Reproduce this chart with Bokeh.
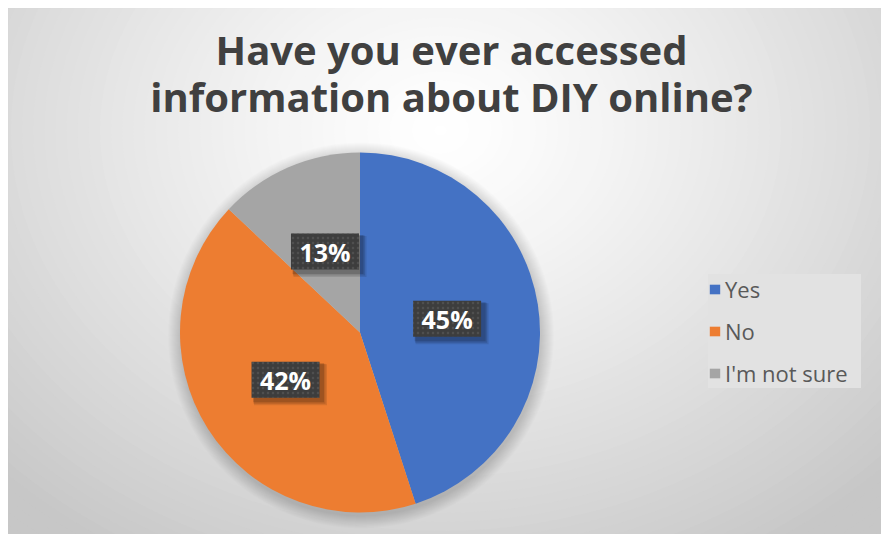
import numpy as np
from bokeh.plotting import figure
from bokeh.models import Range1d, Legend, LegendItem, ColumnDataSource, Label
from bokeh.core.properties import value
from bokeh.embed import file_html
from bokeh.resources import INLINE

# ---- data ----
categories = ["Yes", "No", "I'm not sure"]
shares = [45, 42, 13]
colors = ["#4472C4", "#ED7D31", "#A5A5A5"]
title_lines = ["Have you ever accessed", "information about DIY online?"]

OX, OY = 8, 8            # white strip at left / top, as in the reference
FW, FH = 873, 526        # chart area size
FONT = "Open Sans"


def px(X):               # page x -> data x
    return X - OX


def py(Y):               # page y -> data y
    return FH + OY - Y


p = figure(width=FW + OX, height=FH + OY, x_range=Range1d(0, FW), y_range=Range1d(0, FH),
           x_axis_type=None, y_axis_type=None, output_backend="svg",
           toolbar_location=None, min_border=0, min_border_left=OX, min_border_top=OY)
p.grid.visible = False
p.outline_line_color = "#c4c4c4"
p.background_fill_color = "#cbcbcb"
p.border_fill_color = "white"

# ---- radial gradient background (decoration) ----
gcx, gcy = px(440), py(130)
rx, ry = 620, 500
n = 70
ds = np.linspace(1.25, 0.01, n)
gcols = []
for d in ds:
    t = min(d, 1.0)
    v = int(round(255 - 56 * t ** 1.25))
    gcols.append("#%02x%02x%02x" % (v, v, v))
p.ellipse(x=[gcx] * n, y=[gcy] * n, width=list(2 * rx * ds), height=list(2 * ry * ds),
          fill_color=gcols, line_color=None)

# ---- pie ----
cx, cy, R = px(359.5), py(332), 180
frac = np.array(shares, dtype=float) / sum(shares)
ends = np.cumsum(frac)
starts = ends - frac
start_angle = np.pi / 2 - 2 * np.pi * starts
end_angle = np.pi / 2 - 2 * np.pi * ends

# soft shadow around the pie
for k in range(1, 14):
    p.circle(x=cx + 1, y=cy - 3, radius=R + k, fill_color="black",
             fill_alpha=0.012, line_color=None)

src = ColumnDataSource(dict(cat=categories, start=start_angle, end=end_angle, color=colors))
wr = p.wedge(x=cx, y=cy, radius=R, start_angle="start", end_angle="end",
             direction="clock", fill_color="color", line_color=None, source=src)

# ---- data labels ----
mid = (starts + ends) / 2
ang = np.pi / 2 - 2 * np.pi * mid
lx = cx + 0.49 * R * np.cos(ang)
ly = cy + 0.49 * R * np.sin(ang)
lab_txt = ["%d%%" % s for s in shares]

for off, a in [(5, 0.10), (4, 0.12), (3, 0.15)]:
    p.rect(x=lx + off, y=ly - off, width=68 + off, height=36 + off,
           fill_color="black", fill_alpha=a, line_color=None)
p.rect(x=lx, y=ly, width=68, height=36, fill_color="#3d3d3d", line_color=None,
       hatch_pattern="dot", hatch_color="#575757", hatch_scale=5, hatch_alpha=0.7)
p.text(x=lx, y=ly, text=lab_txt, text_align="center", text_baseline="middle",
       text_color="white", text_font=value(FONT), text_font_style="bold",
       text_font_size="25px")

# ---- title ----
for txt, Yb in zip(title_lines, [49, 96]):
    p.add_layout(Label(x=px(451), y=py(Yb), text=txt, text_align="center",
                       text_baseline="alphabetic", text_color="#404040",
                       text_font=FONT, text_font_style="bold", text_font_size="40px"))

# ---- legend ----
legend = Legend(items=[LegendItem(label=c, renderers=[wr], index=i) for i, c in enumerate(categories)],
                location=(px(708), py(388)), orientation="vertical",
                background_fill_color="#e2e2e2", background_fill_alpha=1.0,
                border_line_color=None, label_text_font=FONT,
                label_text_font_size="22px", label_text_color="#595959",
                glyph_width=13, glyph_height=12, spacing=12, padding=14, margin=0,
                label_standoff=4, label_height=24, label_width=136)
p.add_layout(legend)

open("out.html", "w").write(file_html(p, INLINE))
